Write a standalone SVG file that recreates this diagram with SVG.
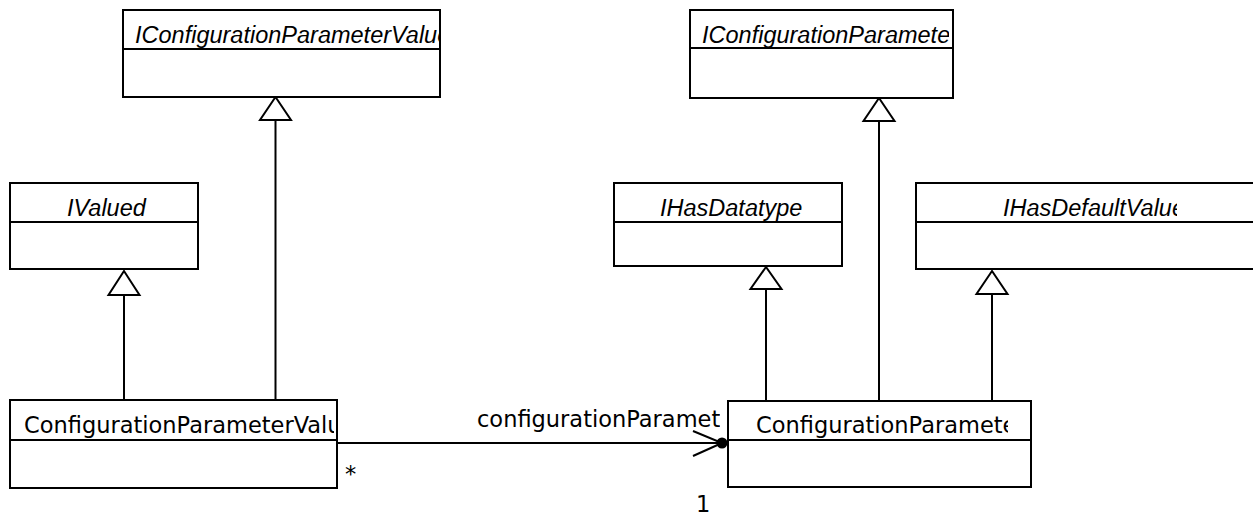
<svg xmlns="http://www.w3.org/2000/svg" width="1253" height="515" viewBox="0 0 1253 515">
<style>
.box{fill:#fff;stroke:#000;stroke-width:2}
.div{stroke:#000;stroke-width:2}
.it{font-family:"Liberation Sans",Arial,sans-serif;font-style:italic;font-size:23.5px;fill:#000}
.rg{font-family:"DejaVu Sans",sans-serif;font-size:22.5px;fill:#000}
.ln{stroke:#000;stroke-width:2;fill:none}
.tri{fill:#fff;stroke:#000;stroke-width:2}
</style>
<defs>
<clipPath id="cA"><rect x="123" y="10" width="317" height="39"/></clipPath>
<clipPath id="cB"><rect x="690" y="10" width="259" height="38"/></clipPath>
<clipPath id="cF"><rect x="916" y="183" width="261" height="39"/></clipPath>
<clipPath id="cD"><rect x="10" y="400" width="324" height="40"/></clipPath>
<clipPath id="cG"><rect x="728" y="401" width="280" height="39"/></clipPath>
<clipPath id="cL"><rect x="470" y="400" width="250" height="35"/></clipPath>
</defs>
<g id="connectors">
<line class="ln" x1="275.5" y1="120" x2="275.5" y2="400"/>
<polygon class="tri" points="275.5,97 260,120 291,120"/>
<line class="ln" x1="124" y1="295" x2="124" y2="400"/>
<polygon class="tri" points="124,271 108.5,295 139.5,295"/>
<line class="ln" x1="766" y1="289" x2="766" y2="401"/>
<polygon class="tri" points="766,267 750.5,289 781.5,289"/>
<line class="ln" x1="879" y1="121" x2="879" y2="401"/>
<polygon class="tri" points="879,98 863.5,121 894.5,121"/>
<line class="ln" x1="992" y1="294" x2="992" y2="401"/>
<polygon class="tri" points="992,271 976.5,294 1007.5,294"/>
<line class="ln" x1="337" y1="443" x2="722" y2="443"/>
<polyline class="ln" points="693,431 722,443 693,456"/>
<circle cx="722" cy="443" r="5.5" fill="#000"/>
<g clip-path="url(#cL)"><text class="rg" x="477" y="427">configurationParameter</text></g>
<text class="rg" x="345" y="482">*</text>
<text class="rg" x="696" y="512">1</text>
</g>
<g id="IConfigurationParameterValue">
<rect class="box" x="123" y="10" width="317" height="87"/>
<line class="div" x1="123" y1="49" x2="441" y2="49"/>
<g clip-path="url(#cA)"><text class="it" x="135" y="43">IConfigurationParameterValue</text></g>
</g>
<g id="IConfigurationParameter">
<rect class="box" x="690" y="10" width="263" height="88"/>
<line class="div" x1="690" y1="48" x2="954" y2="48"/>
<g clip-path="url(#cB)"><text class="it" x="702" y="43">IConfigurationParameter</text></g>
</g>
<g id="IValued">
<rect class="box" x="10" y="183" width="188" height="86"/>
<line class="div" x1="10" y1="222" x2="199" y2="222"/>
<text class="it" x="67" y="216">IValued</text>
</g>
<g id="IHasDatatype">
<rect class="box" x="614" y="183" width="228" height="83"/>
<line class="div" x1="614" y1="222" x2="843" y2="222"/>
<text class="it" x="660" y="216">IHasDatatype</text>
</g>
<g id="IHasDefaultValue">
<rect class="box" x="916" y="183" width="345" height="86"/>
<line class="div" x1="916" y1="222" x2="1261" y2="222"/>
<g clip-path="url(#cF)"><text class="it" x="1003" y="216">IHasDefaultValue</text></g>
</g>
<g id="ConfigurationParameterValue">
<rect class="box" x="10" y="400" width="327" height="88"/>
<line class="div" x1="10" y1="440" x2="338" y2="440"/>
<g clip-path="url(#cD)"><text class="rg" x="24" y="433">ConfigurationParameterValue</text></g>
</g>
<g id="ConfigurationParameter">
<rect class="box" x="728" y="401" width="303" height="86"/>
<line class="div" x1="728" y1="440" x2="1032" y2="440"/>
<g clip-path="url(#cG)"><text class="rg" x="756" y="433">ConfigurationParameter</text></g>
</g>
</svg>
